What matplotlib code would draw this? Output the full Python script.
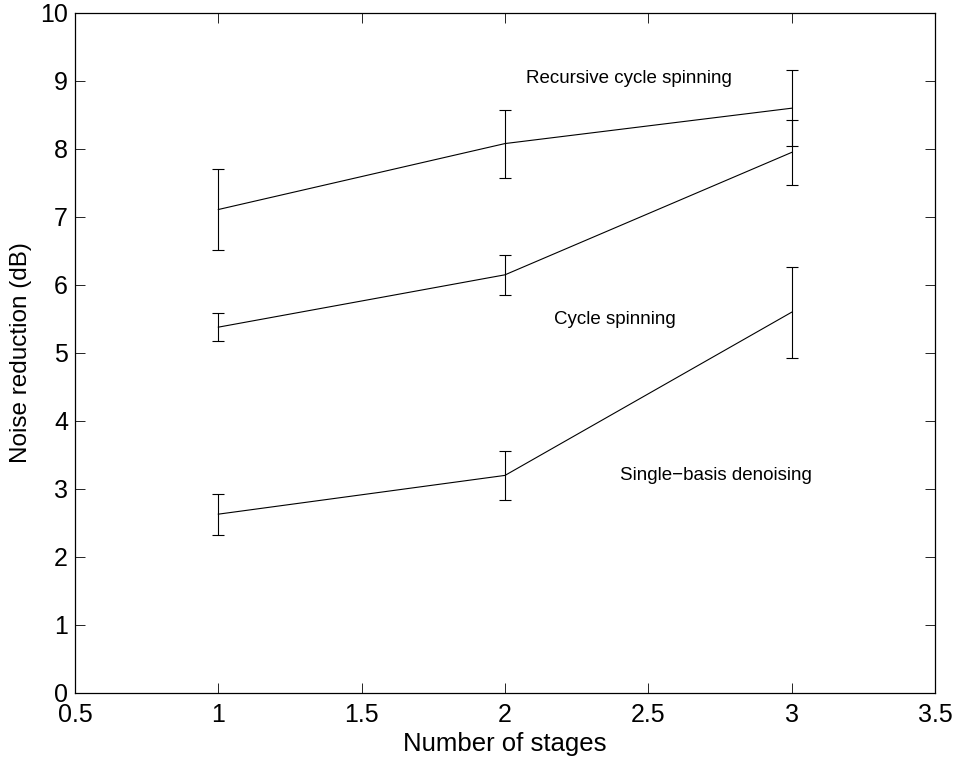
import matplotlib
matplotlib.use("Agg")
import matplotlib.pyplot as plt

plt.rcParams['font.family'] = ['Liberation Sans', 'DejaVu Sans']

stages = [1, 2, 3]
recursive = [7.11, 8.08, 8.60]
recursive_err = [0.59, 0.50, 0.56]
cycle = [5.38, 6.15, 7.95]
cycle_err = [0.21, 0.29, 0.48]
single = [2.63, 3.20, 5.60]
single_err = [0.30, 0.36, 0.67]

labels = ["Recursive cycle spinning", "Cycle spinning", "Single\u2212basis denoising"]
label_pos = [(2.073, 9.04), (2.170, 5.49), (2.400, 3.20)]

fig = plt.figure(figsize=(9.59, 7.59), dpi=100)
ax = fig.add_axes([75/959, 66/759, 860/959, 680/759])

for y, e in [(recursive, recursive_err), (cycle, cycle_err), (single, single_err)]:
    ax.errorbar(stages, y, yerr=e, color='black', linewidth=0.8, elinewidth=0.8,
                capsize=4, capthick=0.8)

for txt, (x, y) in zip(labels, label_pos):
    ax.text(x, y, txt, fontsize=13.5, ha='left', va='center')

ax.set_xlim(0.5, 3.5)
ax.set_ylim(0, 10)
ax.set_xticks([0.5, 1, 1.5, 2, 2.5, 3, 3.5])
ax.set_xticklabels(['0.5', '1', '1.5', '2', '2.5', '3', '3.5'])
ax.set_yticks(range(0, 11))
ax.tick_params(direction='in', length=7, width=0.6, labelsize=18, top=True, right=True)
ax.tick_params(axis='x', pad=7)
ax.tick_params(axis='y', pad=5)
ax.set_xlabel('Number of stages', fontsize=18.5, labelpad=4)
ax.set_ylabel('Noise reduction (dB)', fontsize=17.5, labelpad=6)
for s in ax.spines.values():
    s.set_linewidth(0.9)

fig.savefig('out.png', dpi=100)
